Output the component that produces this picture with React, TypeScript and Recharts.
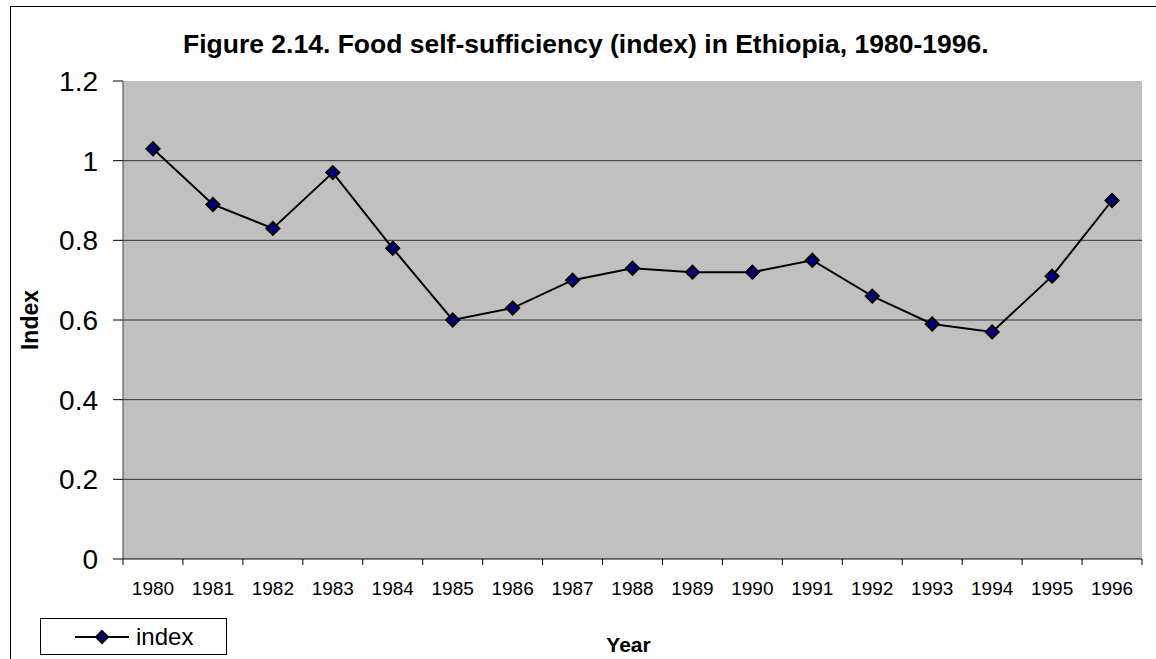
import React from 'react'
import { LineChart, Line, XAxis, YAxis, CartesianGrid, Legend } from 'recharts'

// Food self-sufficiency index, Ethiopia
const years = [1980, 1981, 1982, 1983, 1984, 1985, 1986, 1987, 1988, 1989, 1990, 1991, 1992, 1993, 1994, 1995, 1996]
const indexValues = [1.03, 0.89, 0.83, 0.97, 0.78, 0.6, 0.63, 0.7, 0.73, 0.72, 0.72, 0.75, 0.66, 0.59, 0.57, 0.71, 0.9]
const yTicks = [0, 0.2, 0.4, 0.6, 0.8, 1, 1.2]
const gridValues = [0.2, 0.4, 0.6, 0.8, 1]

const W = 1156
const H = 659
const MARGIN = { top: 81, right: 14, bottom: 0, left: 0 }
const Y_AXIS_W = 123
const X_AXIS_H = 100
const PLOT_W = W - MARGIN.left - MARGIN.right - Y_AXIS_W
const HALF_STEP = PLOT_W / years.length / 2

const FONT = '"Liberation Sans", Arial, Helvetica, sans-serif'
const NAVY = '#000080'

const data = years.map((year, i) => ({ year, index: indexValues[i] }))

// tick marks sit between the years, like Excel category axes
const boundaries = [...years.map((y) => y - 0.5), years[years.length - 1] + 0.5]

function Diamond({ cx, cy, r }: { cx?: number; cy?: number; r: number }) {
  if (cx == null || cy == null) return null
  const pts = `${cx},${cy - r} ${cx + r},${cy} ${cx},${cy + r} ${cx - r},${cy}`
  return <polygon points={pts} fill={NAVY} stroke="#000" strokeWidth={2} />
}

function YearTick(props: any) {
  const { x, y, payload } = props
  const year = payload.value + 0.5
  if (year > years[years.length - 1]) return null
  return (
    <text x={x + HALF_STEP} y={y} dy="0.71em" textAnchor="middle" fontSize={19} fontFamily={FONT} fill="#000">
      {year}
    </text>
  )
}

function LegendBox() {
  return (
    <div
      style={{
        width: 185,
        height: 35,
        border: '1px solid #000',
        background: '#fff',
        display: 'flex',
        alignItems: 'center',
        fontFamily: FONT,
        fontSize: 24,
      }}
    >
      <svg width={95} height={35}>
        <line x1={34} x2={88} y1={18} y2={18} stroke="#000" strokeWidth={2} />
        <Diamond cx={61} cy={18} r={6} />
      </svg>
      <span style={{ lineHeight: 1 }}>index</span>
    </div>
  )
}

export default function App() {
  return (
    <div style={{ position: 'absolute', left: 0, top: 0, width: W, height: H, overflow: 'hidden', background: '#fff' }}>
      <div
        style={{
          position: 'absolute',
          left: 10,
          top: 6,
          width: 2000,
          height: 2000,
          border: '1.5px solid #000',
        }}
      />
      <div
        style={{
          position: 'absolute',
          left: 183,
          top: 29,
          whiteSpace: 'nowrap',
          fontFamily: FONT,
          fontWeight: 'bold',
          fontSize: 26.5,
          color: '#000',
        }}
      >
        Figure 2.14. Food self-sufficiency (index) in Ethiopia, 1980-1996.
      </div>
      <LineChart width={W} height={H} data={data} margin={MARGIN}>
        <CartesianGrid
          vertical={false}
          horizontalValues={gridValues}
          stroke="#333"
          strokeWidth={1}
          fill="#c0c0c0"
          fillOpacity={1}
        />
        <XAxis
          dataKey="year"
          type="number"
          domain={[years[0] - 0.5, years[years.length - 1] + 0.5]}
          ticks={boundaries}
          interval={0}
          height={X_AXIS_H}
          tickSize={6}
          tickMargin={17}
          tick={<YearTick />}
          axisLine={{ stroke: '#000', strokeWidth: 1 }}
          tickLine={{ stroke: '#000' }}
          label={({ viewBox }: any) => (
            <text
              x={viewBox.x + viewBox.width / 2 - 4}
              y={652}
              textAnchor="middle"
              fontSize={21}
              fontWeight="bold"
              fontFamily={FONT}
              fill="#000"
            >
              Year
            </text>
          )}
        />
        <YAxis
          width={Y_AXIS_W}
          domain={[0, 1.2]}
          ticks={yTicks}
          interval={0}
          tickSize={10}
          tickMargin={15}
          tick={{ fontSize: 28, fontFamily: FONT, fill: '#000' }}
          axisLine={{ stroke: '#444', strokeWidth: 1 }}
          tickLine={{ stroke: '#000' }}
          label={({ viewBox }: any) => {
            const cy = viewBox.y + viewBox.height / 2
            return (
              <text
                x={30}
                y={cy}
                transform={`rotate(-90 30 ${cy})`}
                textAnchor="middle"
                dominantBaseline="central"
                fontSize={23}
                fontWeight="bold"
                fontFamily={FONT}
                fill="#000"
              >
                Index
              </text>
            )
          }}
        />
        <Legend
          layout="horizontal"
          verticalAlign="middle"
          align="center"
          wrapperStyle={{ left: 40, top: 618, width: 'auto', height: 'auto' }}
          content={() => <LegendBox />}
        />
        <Line
          dataKey="index"
          name="index"
          stroke="#000"
          strokeWidth={2}
          dot={(p: any) => <Diamond key={p.index} cx={p.cx} cy={p.cy} r={6.5} />}
          activeDot={false}
          isAnimationActive={false}
        />
      </LineChart>
    </div>
  )
}
